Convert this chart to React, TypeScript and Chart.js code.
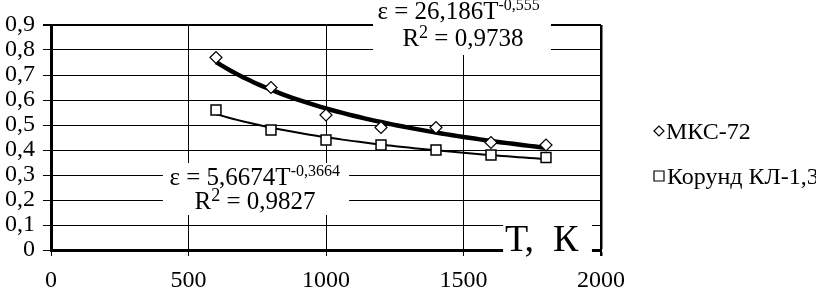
import React, { useEffect, useRef } from 'react';
import { Chart, registerables } from 'chart.js';

Chart.register(...registerables);

// ---- data ----
const temperatures = [600, 800, 1000, 1200, 1400, 1600, 1800];
const mksValues = [0.77, 0.65, 0.54, 0.49, 0.49, 0.43, 0.42];
const korundValues = [0.56, 0.48, 0.44, 0.42, 0.4, 0.38, 0.37];
const seriesNames = ['МКС-72', 'Корунд КЛ-1,3'];
const xTickValues = [0, 500, 1000, 1500, 2000];
const yTickLabels = ['0', '0,1', '0,2', '0,3', '0,4', '0,5', '0,6', '0,7', '0,8', '0,9'];
// power trend coefficients printed on the chart: eps = a * T^b
const mksTrendCoef = [26.186, -0.555];
const korundTrendCoef = [5.6674, -0.3664];
const trendRange = [600, 1800];

const SERIF = '"Liberation Serif", "Times New Roman", serif';

function trendPoints(coef: number[]) {
  const pts: { x: number; y: number }[] = [];
  for (let t = trendRange[0]; t <= trendRange[1]; t += 20) {
    pts.push({ x: t, y: coef[0] * Math.pow(t, coef[1]) });
  }
  return pts;
}

type Part = { text: string; size: number; rise?: number };
type Ann = {
  box: number[]; // [tMin, tMax, vTop, vBottom]
  lines: { t: number; v: number; parts: Part[] }[];
};

const annotations: Ann[] = [
  {
    box: [1171, 1818, 1.0, 0.78],
    lines: [
      { t: 1187, v: 0.924, parts: [{ text: 'ε = 26,186T', size: 25 }, { text: '-0,555', size: 16, rise: 9 }] },
      { t: 1278, v: 0.816, parts: [{ text: 'R', size: 25 }, { text: '2', size: 18, rise: 8 }, { text: ' = 0,9738', size: 25 }] },
    ],
  },
  {
    box: [407, 1084, 0.348, 0.14],
    lines: [
      { t: 431, v: 0.26, parts: [{ text: 'ε = 5,6674T', size: 25 }, { text: '-0,3664', size: 16, rise: 9 }] },
      { t: 522, v: 0.164, parts: [{ text: 'R', size: 25 }, { text: '2', size: 18, rise: 8 }, { text: ' = 0,9827', size: 25 }] },
    ],
  },
  {
    box: [1644, 1967, 0.14, -0.048],
    lines: [{ t: 1651, v: -0.004, parts: [{ text: 'Т,  К', size: 38 }] }],
  },
];

function drawRich(ctx: CanvasRenderingContext2D, x: number, y: number, parts: Part[]) {
  let cx = x;
  for (const p of parts) {
    ctx.font = `${p.size}px ${SERIF}`;
    ctx.fillText(p.text, cx, y - (p.rise || 0));
    cx += ctx.measureText(p.text).width;
  }
}

const overlayPlugin = {
  id: 'overlay',
  afterDraw(chart: any) {
    const ctx: CanvasRenderingContext2D = chart.ctx;
    const xs = chart.scales.x;
    const ys = chart.scales.y;
    ctx.save();
    ctx.textBaseline = 'alphabetic';
    ctx.textAlign = 'left';
    for (const a of annotations) {
      const x0 = xs.getPixelForValue(a.box[0]);
      const x1 = xs.getPixelForValue(a.box[1]);
      const y0 = ys.getPixelForValue(a.box[2]);
      const y1 = ys.getPixelForValue(a.box[3]);
      ctx.fillStyle = '#ffffff';
      ctx.fillRect(x0, y0, x1 - x0, y1 - y0);
      ctx.fillStyle = '#000000';
      for (const l of a.lines) {
        drawRich(ctx, xs.getPixelForValue(l.t), ys.getPixelForValue(l.v), l.parts);
      }
    }
    // legend
    const lx = chart.chartArea.right + 58;
    ctx.strokeStyle = '#000';
    ctx.lineWidth = 1.2;
    ctx.fillStyle = '#fff';
    // diamond
    const dy = 131;
    ctx.beginPath();
    ctx.moveTo(lx - 5, dy);
    ctx.lineTo(lx, dy - 5);
    ctx.lineTo(lx + 5, dy);
    ctx.lineTo(lx, dy + 5);
    ctx.closePath();
    ctx.fill();
    ctx.stroke();
    // square
    const sy = 176;
    ctx.beginPath();
    ctx.rect(lx - 5, sy - 5, 10, 10);
    ctx.fill();
    ctx.stroke();
    ctx.fillStyle = '#000';
    ctx.font = `24px ${SERIF}`;
    ctx.fillText(seriesNames[0], lx + 7, dy + 8);
    ctx.fillText(seriesNames[1], lx + 8, sy + 8);
    ctx.restore();
  },
};

export default function App() {
  const ref = useRef<HTMLCanvasElement | null>(null);
  useEffect(() => {
    document.body.style.margin = '0';
    const canvas = ref.current;
    if (!canvas) return;
    const chart = new Chart(canvas, {
      type: 'scatter',
      data: {
        datasets: [
          {
            label: seriesNames[0],
            data: temperatures.map((t, i) => ({ x: t, y: mksValues[i] })),
            pointStyle: 'rectRot',
            pointRadius: 6,
            pointBackgroundColor: '#fff',
            pointBorderColor: '#000',
            pointBorderWidth: 1.2,
            showLine: false,
            order: 0,
          },
          {
            label: seriesNames[1],
            data: temperatures.map((t, i) => ({ x: t, y: korundValues[i] })),
            pointStyle: 'rect',
            pointRadius: 7,
            pointBackgroundColor: '#fff',
            pointBorderColor: '#000',
            pointBorderWidth: 1.5,
            showLine: false,
            order: 0,
          },
          {
            label: 'trend1',
            data: trendPoints(mksTrendCoef),
            showLine: true,
            borderColor: '#000',
            borderWidth: 4.5,
            pointRadius: 0,
            tension: 0,
            order: 1,
          },
          {
            label: 'trend2',
            data: trendPoints(korundTrendCoef),
            showLine: true,
            borderColor: '#000',
            borderWidth: 2,
            pointRadius: 0,
            tension: 0,
            order: 1,
          },
        ],
      },
      options: {
        animation: false,
        responsive: false,
        devicePixelRatio: 1,
        layout: { padding: { top: 25, right: 215, left: 0, bottom: 0 } },
        plugins: {
          legend: { display: false },
          tooltip: { enabled: false },
        },
        scales: {
          x: {
            type: 'linear',
            min: 0,
            max: 2000,
            afterFit: (s: any) => {
              s.height = 39;
            },
            afterBuildTicks: (s: any) => {
              s.ticks = xTickValues.map((v) => ({ value: v }));
            },
            ticks: {
              color: '#000',
              font: { family: SERIF, size: 24 },
              padding: 10,
              maxRotation: 0,
              autoSkip: false,
              callback: (v: any) => String(v),
            },
            grid: {
              color: '#000',
              lineWidth: (c: any) => (c.tick && c.tick.value === 2000 ? 2.5 : 1),
              tickLength: 6,
              tickColor: '#000',
            },
            border: { display: true, color: '#000', width: 3 },
          },
          y: {
            type: 'linear',
            min: 0,
            max: 0.9,
            afterFit: (s: any) => {
              s.width = 51;
            },
            afterBuildTicks: (s: any) => {
              s.ticks = yTickLabels.map((_, i) => ({ value: i / 10 }));
            },
            ticks: {
              color: '#000',
              font: { family: SERIF, size: 24 },
              padding: 8,
              autoSkip: false,
              callback: (_v: any, i: number) => yTickLabels[i],
            },
            grid: {
              color: '#000',
              lineWidth: (c: any) => (c.index === 9 ? 2 : 1),
              tickLength: 8,
              tickColor: '#000',
            },
            border: { display: true, color: '#000', width: 3 },
          },
        },
      },
      plugins: [overlayPlugin],
    });
    return () => chart.destroy();
  }, []);
  return <canvas ref={ref} width={816} height={289} style={{ display: 'block' }} />;
}
